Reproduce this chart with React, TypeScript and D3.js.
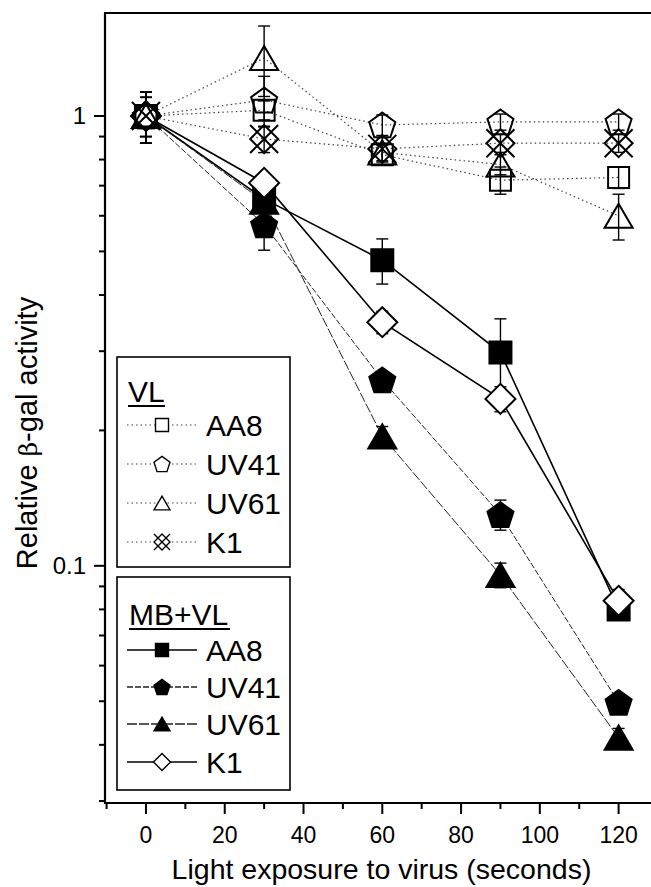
import React from "react";
import * as d3 from "d3";

// Exposure times (seconds)
const times = [0, 30, 60, 90, 120];

// VL only (open markers, dotted lines)
const vlAA8 = [1, 1.03, 0.82, 0.72, 0.73];
const vlUV41 = [1, 1.085, 0.955, 0.97, 0.97];
const vlUV61 = [1, 1.345, 0.83, 0.78, 0.6];
const vlK1 = [1, 0.889, 0.845, 0.87, 0.87];
const vlAA8Err = [0.13, 0.05, 0.04, 0.05, 0.04];
const vlUV41Err = [0.13, 0.14, 0.05, 0.04, 0.04];
const vlUV61Err = [0.13, 0.24, 0.04, 0.04, 0.07];
const vlK1Err = [0.13, 0.06, 0.05, 0.04, 0.04];

// MB+VL (filled markers / diamond, solid lines)
const mbAA8 = [1, 0.654, 0.478, 0.298, 0.08];
const mbUV41 = [1, 0.573, 0.259, 0.13, 0.0497];
const mbUV61 = [1, 0.645, 0.194, 0.0954, 0.0415];
const mbK1 = [1, 0.71, 0.348, 0.235, 0.0836];
const mbAA8Err = [0.1, 0.03, 0.055, 0.056, 0.004];
const mbUV41Err = [0.1, 0.07, 0.01, 0.01, 0.002];
const mbUV61Err = [0.1, 0.03, 0.01, 0.006, 0.002];
const mbK1Err = [0.1, 0.03, 0.02, 0.015, 0.005];

const cellLines = ["AA8", "UV41", "UV61", "K1"];
const xTicks = [0, 20, 40, 60, 80, 100, 120];
const xMinor = [-10, 10, 30, 50, 70, 90, 110, 130];
const yMajor = [0.1, 1];
const yMinor = [0.03, 0.04, 0.05, 0.06, 0.07, 0.08, 0.09, 0.2, 0.3, 0.4, 0.5, 0.6, 0.7, 0.8, 0.9];

const W = 651;
const H = 887;
const FONT = "'Liberation Sans', Arial, Helvetica, sans-serif";

const x = d3.scaleLinear().domain([-10.4, 130]).range([105, 658]);
const y = d3.scaleLog().domain([0.0297, 1.694]).range([803, 13]);

type Shape = "square" | "pentagon" | "triangle" | "xdiamond" | "diamond";

function shapePath(shape: Shape, s: number): string {
  const p = d3.path();
  if (shape === "square") {
    const h = s / 2;
    p.rect(-h, -h, s, s);
  } else if (shape === "pentagon") {
    const r = s / 1.902;
    for (let i = 0; i < 5; i++) {
      const a = -Math.PI / 2 + (i * 2 * Math.PI) / 5;
      const px = r * Math.cos(a);
      const py = r * Math.sin(a) + r * 0.095;
      if (i === 0) p.moveTo(px, py);
      else p.lineTo(px, py);
    }
    p.closePath();
  } else if (shape === "triangle") {
    const w = s / 2;
    const h = s * 0.43;
    p.moveTo(0, -h);
    p.lineTo(w, h);
    p.lineTo(-w, h);
    p.closePath();
  } else if (shape === "diamond") {
    const h = s / 2;
    p.moveTo(0, -h);
    p.lineTo(h, 0);
    p.lineTo(0, h);
    p.lineTo(-h, 0);
    p.closePath();
  } else {
    const h = s / 2;
    p.moveTo(-h, -h);
    p.lineTo(h, h);
    p.moveTo(h, -h);
    p.lineTo(-h, h);
    p.moveTo(0, -h);
    p.lineTo(h, 0);
    p.lineTo(0, h);
    p.lineTo(-h, 0);
    p.closePath();
  }
  return p.toString();
}

type Series = {
  name: string;
  values: number[];
  errs: number[];
  shape: Shape;
  size: number;
  fill: string;
  dash: string;
  width: number;
  color: string;
};

const DOT = "1.5,3";

const vlSeries: Series[] = [
  { name: "AA8", values: vlAA8, errs: vlAA8Err, shape: "square", size: 21, fill: "none", dash: DOT, width: 1.2, color: "#444" },
  { name: "UV41", values: vlUV41, errs: vlUV41Err, shape: "pentagon", size: 26, fill: "none", dash: DOT, width: 1.2, color: "#444" },
  { name: "UV61", values: vlUV61, errs: vlUV61Err, shape: "triangle", size: 28, fill: "none", dash: DOT, width: 1.2, color: "#444" },
  { name: "K1", values: vlK1, errs: vlK1Err, shape: "xdiamond", size: 28, fill: "none", dash: DOT, width: 1.2, color: "#444" },
];

const mbSeries: Series[] = [
  { name: "AA8", values: mbAA8, errs: mbAA8Err, shape: "square", size: 22, fill: "#000", dash: "", width: 1.6, color: "#000" },
  { name: "UV41", values: mbUV41, errs: mbUV41Err, shape: "pentagon", size: 26, fill: "#000", dash: "6,2", width: 1, color: "#222" },
  { name: "UV61", values: mbUV61, errs: mbUV61Err, shape: "triangle", size: 28, fill: "#000", dash: "10,2", width: 1, color: "#222" },
  { name: "K1", values: mbK1, errs: mbK1Err, shape: "diamond", size: 30, fill: "#fff", dash: "", width: 1.6, color: "#000" },
];

const line = d3
  .line<number>()
  .x((_, i) => x(times[i]))
  .y((v) => y(v));

function SeriesLine({ s }: { s: Series }) {
  return (
    <path
      d={line(s.values) || ""}
      fill="none"
      stroke={s.color}
      strokeWidth={s.width}
      strokeDasharray={s.dash || undefined}
    />
  );
}

function ErrorBars({ s }: { s: Series }) {
  return (
    <g stroke="#000" strokeWidth={1.4}>
      {s.values.map((v, i) => {
        const cx = x(times[i]);
        const y1 = y(v + s.errs[i]);
        const y2 = y(Math.max(v - s.errs[i], 0.001));
        return (
          <g key={i}>
            <line x1={cx} x2={cx} y1={y1} y2={y2} />
            <line x1={cx - 6} x2={cx + 6} y1={y1} y2={y1} />
            <line x1={cx - 6} x2={cx + 6} y1={y2} y2={y2} />
          </g>
        );
      })}
    </g>
  );
}

function Markers({ s }: { s: Series }) {
  return (
    <g>
      {s.values.map((v, i) => (
        <path
          key={i}
          d={shapePath(s.shape, s.size)}
          transform={`translate(${x(times[i])},${y(v)})`}
          fill={s.fill}
          stroke="#000"
          strokeWidth={2}
          strokeLinejoin="miter"
        />
      ))}
    </g>
  );
}

function LegendBox({
  title,
  series,
  top,
  bottom,
  titleBase,
  rows,
  titleX,
}: {
  title: string;
  series: Series[];
  top: number;
  bottom: number;
  titleBase: number;
  rows: number[];
  titleX: number;
}) {
  const left = 117;
  const right = 290;
  const titleW = title === "VL" ? 37 : 101;
  return (
    <g>
      <rect x={left} y={top} width={right - left} height={bottom - top} fill="#fff" stroke="#000" strokeWidth={1.6} />
      <text x={titleX} y={titleBase} fontSize={30} fontFamily={FONT} fill="#000">
        {title}
      </text>
      <line x1={titleX} x2={titleX + titleW} y1={titleBase + 4} y2={titleBase + 4} stroke="#000" strokeWidth={2} />
      {series.map((s, i) => (
        <g key={s.name}>
          <line
            x1={127}
            x2={197}
            y1={rows[i]}
            y2={rows[i]}
            stroke={s.color}
            strokeWidth={s.dash === DOT ? 1.2 : 1.3}
            strokeDasharray={s.dash || undefined}
          />
          <path
            d={shapePath(s.shape, s.shape === "diamond" ? 17 : s.shape === "square" ? 13 : 16)}
            transform={`translate(162,${rows[i]})`}
            fill={s.fill === "none" ? "#fff" : s.fill}
            stroke="#000"
            strokeWidth={1.4}
          />
          <text x={206} y={rows[i] + 11} fontSize={30} fontFamily={FONT} fill="#000">
            {cellLines[i]}
          </text>
        </g>
      ))}
    </g>
  );
}

export default function App() {
  const x0 = x.range()[0];
  const x1 = x.range()[1];
  const yBottom = y.range()[0];
  const yTop = y.range()[1];
  return (
    <svg
      width={W}
      height={H}
      viewBox={`0 0 ${W} ${H}`}
      style={{ position: "absolute", left: 0, top: 0, background: "#fff" }}
    >
      <rect x={0} y={0} width={W} height={H} fill="#fff" />

      {/* frame */}
      <g stroke="#000" strokeWidth={2.2} fill="none">
        <line x1={x0} x2={x0} y1={yTop} y2={yBottom} />
        <line x1={x0 - 1} x2={x1} y1={yBottom} y2={yBottom} />
        <line x1={x0 - 1} x2={x1} y1={yTop} y2={yTop} />
        <line x1={x1} x2={x1} y1={yTop} y2={yBottom} />
      </g>

      {/* x ticks */}
      <g stroke="#000" strokeWidth={2}>
        {xTicks.map((t) => (
          <line key={t} x1={x(t)} x2={x(t)} y1={yBottom} y2={yBottom + 11} />
        ))}
        {xMinor.map((t) => (
          <line key={t} x1={x(t)} x2={x(t)} y1={yBottom} y2={yBottom + 6} />
        ))}
      </g>
      <g fontFamily={FONT} fontSize={23} textAnchor="middle" fill="#000">
        {xTicks.map((t) => (
          <text key={t} x={x(t)} y={yBottom + 40}>
            {t}
          </text>
        ))}
      </g>
      <text x={(x0 + x1) / 2} y={879} fontFamily={FONT} fontSize={28.5} textAnchor="middle" fill="#000">
        Light exposure to virus (seconds)
      </text>

      {/* y ticks */}
      <g stroke="#000" strokeWidth={2}>
        {yMajor.map((t) => (
          <line key={t} x1={x0 - 11} x2={x0} y1={y(t)} y2={y(t)} />
        ))}
        {yMinor.map((t) => (
          <line key={t} x1={x0 - 6} x2={x0} y1={y(t)} y2={y(t)} />
        ))}
      </g>
      <g fontFamily={FONT} fontSize={24} textAnchor="end" fill="#000">
        {yMajor.map((t) => (
          <text key={t} x={x0 - 19} y={y(t) + 8.5}>
            {t === 1 ? "1" : "0.1"}
          </text>
        ))}
      </g>
      <text
        transform={`translate(37,433) rotate(-90)`}
        fontFamily={FONT}
        fontSize={29}
        textAnchor="middle"
        fill="#000"
      >
        Relative <tspan fontFamily="'DejaVu Serif', serif" fontSize={25}>β</tspan>-gal activity
      </text>

      {/* series */}
      {vlSeries.map((s) => (
        <SeriesLine key={"vl" + s.name} s={s} />
      ))}
      {mbSeries.map((s) => (
        <SeriesLine key={"mb" + s.name} s={s} />
      ))}
      {vlSeries.map((s) => (
        <ErrorBars key={"vle" + s.name} s={s} />
      ))}
      {mbSeries.map((s) => (
        <ErrorBars key={"mbe" + s.name} s={s} />
      ))}
      {mbSeries.slice(0, 3).map((s) => (
        <Markers key={"mbm" + s.name} s={s} />
      ))}
      <Markers s={mbSeries[3]} />
      {vlSeries.map((s) => (
        <Markers key={"vlm" + s.name} s={s} />
      ))}

      {/* legends */}
      <LegendBox title="VL" series={vlSeries} top={357} bottom={567} titleBase={402} rows={[425, 464, 503, 542]} titleX={128} />
      <LegendBox title="MB+VL" series={mbSeries} top={577} bottom={790} titleBase={625} rows={[650, 687, 724, 762]} titleX={129} />
    </svg>
  );
}
